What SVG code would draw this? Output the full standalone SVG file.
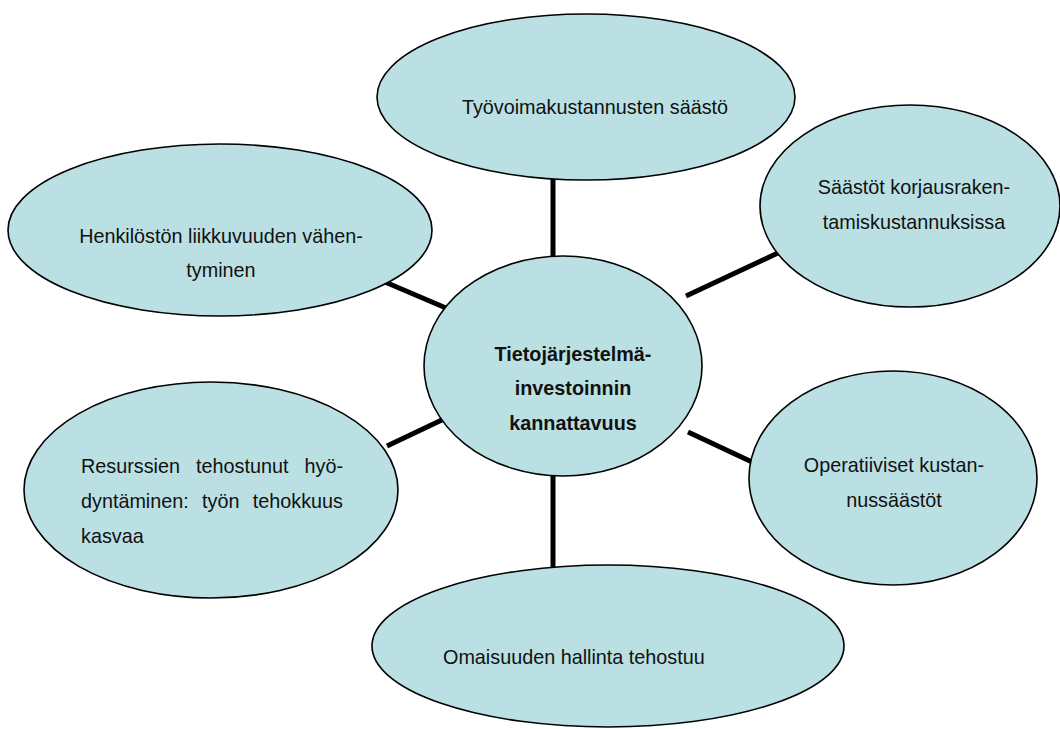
<svg xmlns="http://www.w3.org/2000/svg" width="1060" height="729" viewBox="0 0 1060 729">
<style>
.n{fill:#bae0e3;stroke:#000;stroke-width:1.6}
.t{font-family:"Liberation Sans",Arial,sans-serif;font-size:19.8px;fill:#111}
.c{text-anchor:middle}
.b{font-weight:bold}
.e{text-anchor:end}
.k{stroke:#000;stroke-width:5;fill:none}
</style>
<rect width="1060" height="729" fill="#fff"/>
<g id="connectors">
<line class="k" x1="553" y1="175" x2="553" y2="262"/>
<line class="k" x1="385" y1="282" x2="446" y2="308"/>
<line class="k" x1="686" y1="296" x2="780" y2="252"/>
<line class="k" x1="387" y1="446" x2="446" y2="418"/>
<line class="k" x1="688" y1="432" x2="752" y2="462"/>
<line class="k" x1="553" y1="470" x2="553" y2="570"/>
</g>
<g id="n-top">
<ellipse class="n" cx="586" cy="97" rx="209" ry="83"/>
<text class="t c" x="595" y="114">Työvoimakustannusten säästö</text>
</g>
<g id="n-henkilosto">
<ellipse class="n" cx="220" cy="230" rx="212" ry="86"/>
<text class="t c" x="221" y="243">Henkilöstön liikkuvuuden vähen-</text>
<text class="t c" x="221" y="277">tyminen</text>
</g>
<g id="n-saastot">
<ellipse class="n" cx="910" cy="206" rx="150" ry="101"/>
<text class="t c" x="914" y="194">Säästöt korjausraken-</text>
<text class="t c" x="914" y="229">tamiskustannuksissa</text>
</g>
<g id="n-center">
<ellipse class="n" cx="563" cy="366" rx="139" ry="110"/>
<text class="t c b" x="573" y="361">Tietojärjestelmä-</text>
<text class="t c b" x="573" y="395">investoinnin</text>
<text class="t c b" x="573" y="430">kannattavuus</text>
</g>
<g id="n-resurssit">
<ellipse class="n" cx="211" cy="490" rx="187" ry="108"/>
<text class="t" x="81" y="473">Resurssien</text>
<text class="t" x="196" y="473">tehostunut</text>
<text class="t e" x="343" y="473">hyö-</text>
<text class="t" x="81" y="508">dyntäminen:</text>
<text class="t" x="202" y="508">työn</text>
<text class="t e" x="343" y="508">tehokkuus</text>
<text class="t" x="81" y="543">kasvaa</text>
</g>
<g id="n-operatiiviset">
<ellipse class="n" cx="893" cy="478" rx="144" ry="107"/>
<text class="t c" x="894" y="472">Operatiiviset kustan-</text>
<text class="t c" x="894" y="507">nussäästöt</text>
</g>
<g id="n-omaisuus">
<ellipse class="n" cx="608" cy="646" rx="236" ry="81"/>
<text class="t" x="443" y="664">Omaisuuden hallinta tehostuu</text>
</g>
</svg>
